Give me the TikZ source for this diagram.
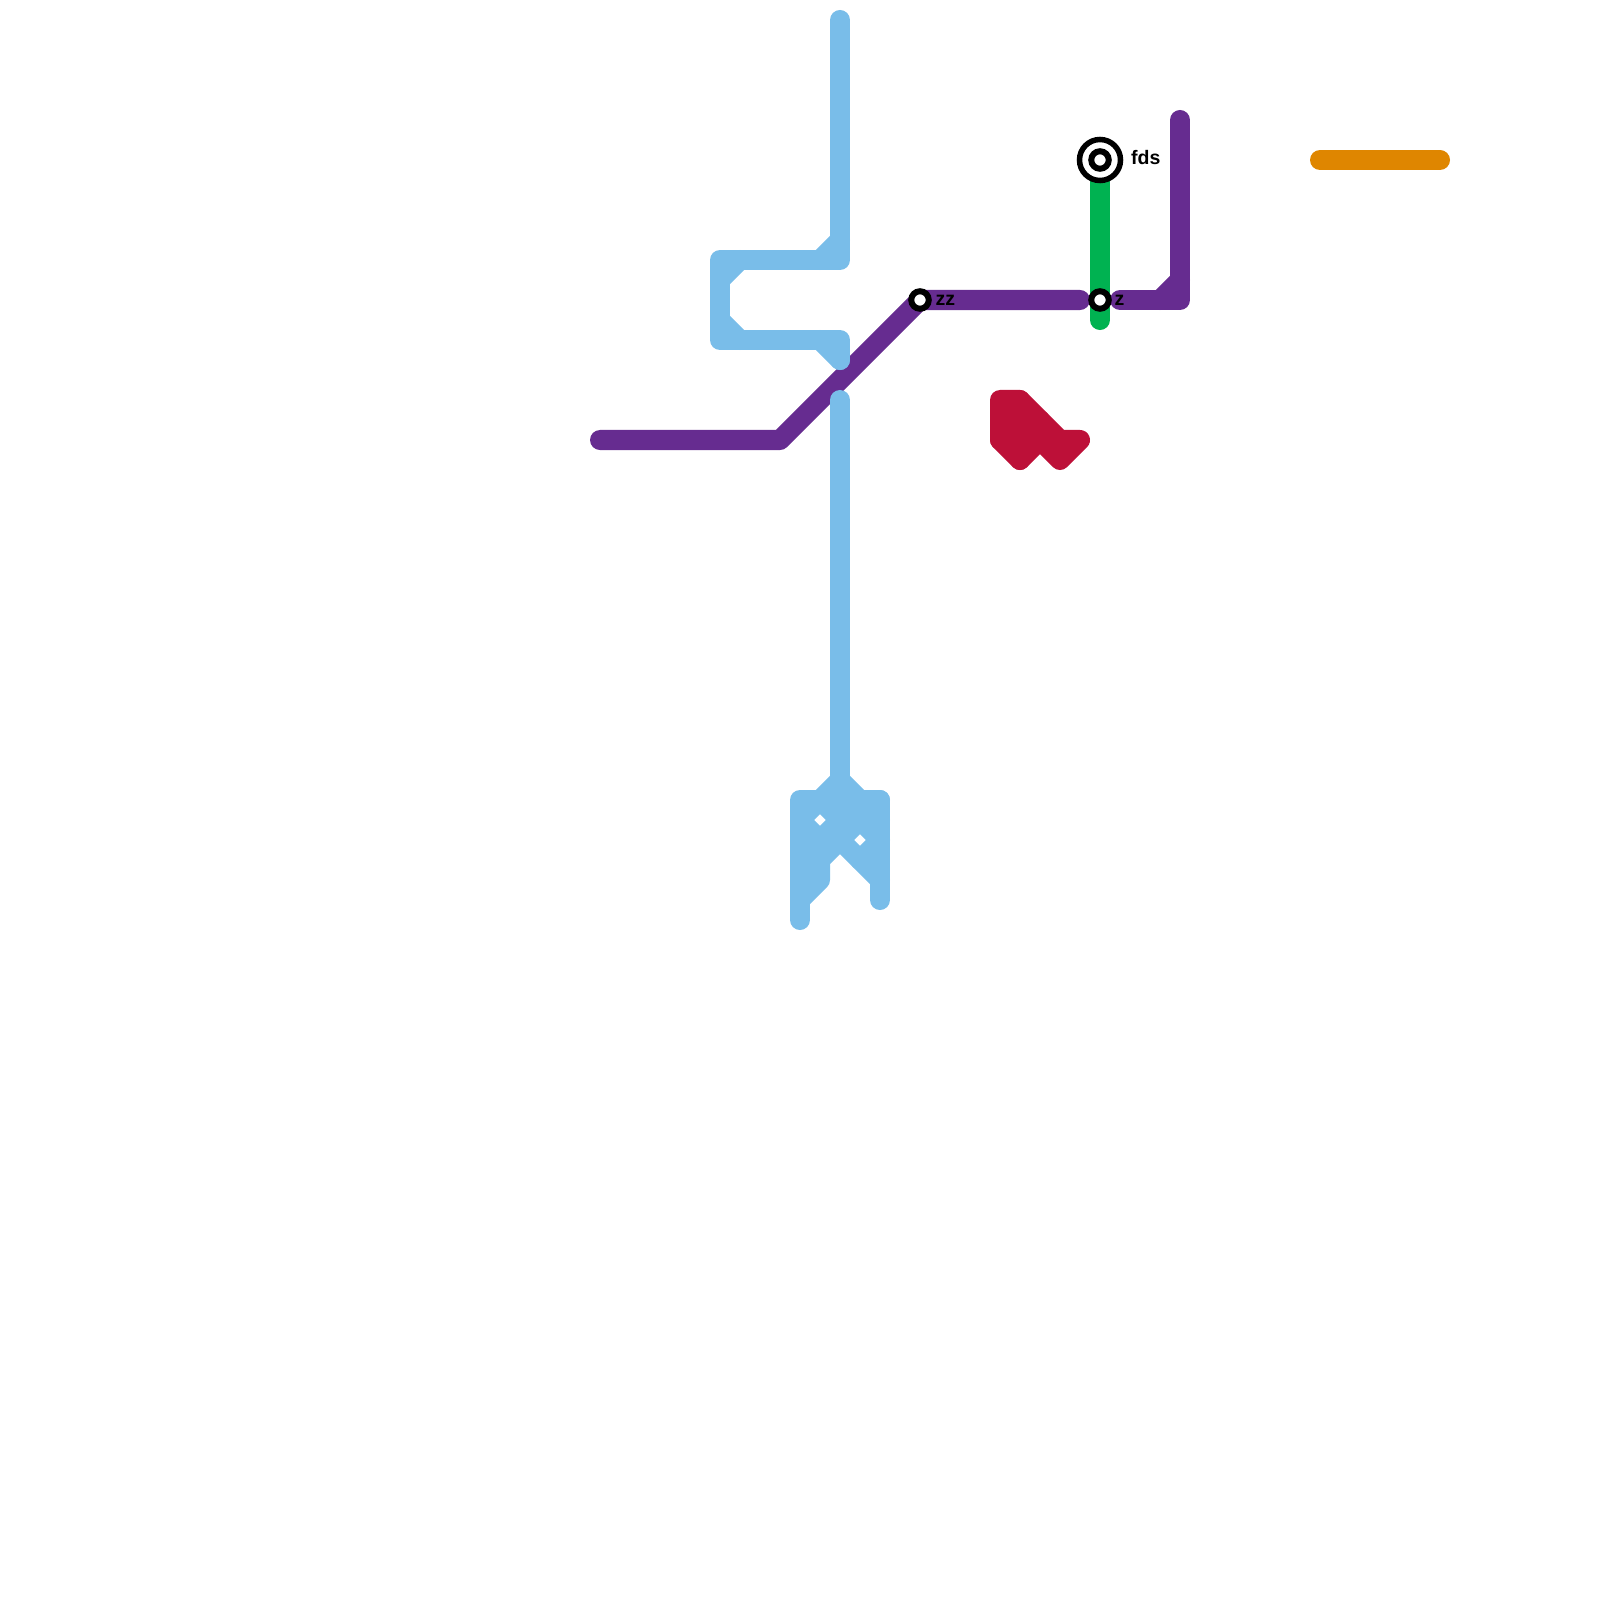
\documentclass[tikz,border=0pt]{standalone}
\usepackage{fontspec}
\setmainfont{Liberation Sans}
\usepackage{xcolor}
\definecolor{routeblue}{HTML}{79BDE9}
\definecolor{routepurple}{HTML}{662C90}
\definecolor{routegreen}{HTML}{00B251}
\definecolor{routered}{HTML}{BD1038}
\definecolor{routeorange}{HTML}{DF8600}
\usetikzlibrary{backgrounds}

\begin{document}
\begin{tikzpicture}[
  x=0.01cm,y=-0.01cm,
  route/.style={line width=2mm,line cap=round,line join=round},
  halt/.style={circle,draw=black,fill=white,line width=0.6mm,minimum size=1.75mm,inner sep=0pt},
  ringhalt/.style={circle,draw=black,fill=white,line width=0.55mm,minimum size=4.1mm,inner sep=0pt},
  stoplabel/.style={anchor=base west,inner sep=0pt,font=\bfseries\fontsize{5.55pt}{6pt}\selectfont}
]
\useasboundingbox (0,0) rectangle (1600,1600);
\node[ringhalt] (fdsring) at (1100,160) {};
\node[halt] (fds) at (1100,160) {};
\node[halt] (z) at (1100,300) {};
\node[halt] (zz) at (920,300) {};
\node[stoplabel] (fdslabel) at (1130.5,165) {fds};
\node[stoplabel] (zlabel) at (1114,305) {z};
\node[stoplabel] (zzlabel) at (935,305) {zz};
\coordinate (greenend) at (1100,320);
\coordinate (purplestart) at (600,440);
\coordinate (purplebend) at (780,440);
\coordinate (purpleend) at (1080,300);
\coordinate (eaststart) at (1120,300);
\coordinate (eastbend) at (1180,300);
\coordinate (eastend) at (1180,120);
\begin{scope}[on background layer]
\draw[route,routepurple] (purplestart) -- (purplebend) -- (zz.center) -- (purpleend);
\draw[route,routepurple] (eaststart) -- (eastbend) -- (eastend);
\draw[route,routepurple] (1160,300) -- (1180,280);
\draw[route,routegreen] (fds.center) -- (z.center) -- (greenend);
\draw[route,routeorange] (1320,160) -- (1440,160);
% upper blue loop
\draw[route,routeblue] (840,20) -- (840,260) -- (720,260) -- (720,340) -- (840,340) -- (840,360);
\draw[route,routeblue] (840,240) -- (820,260);
\draw[route,routeblue] (720,280) -- (740,260);
\draw[route,routeblue] (720,320) -- (740,340);
\draw[route,routeblue] (820,340) -- (840,360);
% lower blue knot
\draw[route,routeblue] (840,400) -- (840,780);
\draw[route,routeblue] (820,800) -- (840,780) -- (860,800);
\draw[route,routeblue] (800,920) -- (800,800) -- (880,800) -- (880,900);
\draw[route,routeblue] (800,820) -- (820,800);
\draw[route,routeblue] (800,860) -- (860,800);
\draw[route,routeblue] (880,800) -- (820,860) -- (820,880) -- (800,900);
\draw[route,routeblue] (880,840) -- (860,860);
\draw[route,routeblue] (820,800) -- (840,820);
\draw[route,routeblue] (840,800) -- (880,840);
\draw[route,routeblue] (860,800) -- (880,820);
\draw[route,routeblue] (800,820) -- (820,840);
\draw[route,routeblue] (840,840) -- (880,880);
% red cluster
\draw[route,routered] (1020,400) -- (1000,400) -- (1000,440) -- (1020,460) -- (1040,440) -- (1060,460) -- (1080,440) -- (1060,440) -- (1020,400);
\draw[route,routered] (1020,400) -- (1020,460);
\draw[route,routered] (1000,420) -- (1040,420);
\draw[route,routered] (1000,440) -- (1060,440);
\end{scope}
\end{tikzpicture}
\end{document}
